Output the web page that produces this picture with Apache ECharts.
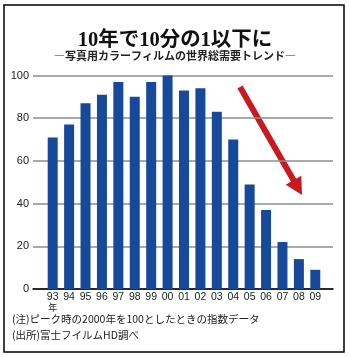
<!DOCTYPE html>
<html><head><meta charset="utf-8">
<script src="https://cdn.jsdelivr.net/npm/echarts@6/dist/echarts.min.js"></script>
<style>html,body{margin:0;padding:0;background:#fff}#c{width:350px;height:357px}</style>
</head><body><div id="c"></div>
<script>
const categories = ['93','94','95','96','97','98','99','00','01','02','03','04','05','06','07','08','09'];
const demandIndex = [71,77,87,91,97,90,97,100,93,94,83,70,49,37,22,14,9];
const yTicks = [0,20,40,60,80,100];
const titleText = '10年で10分の1以下に';
const subtitleText = '―写真用カラーフィルムの世界総需要トレンド―';
const noteText = '(注)ピーク時の2000年を100としたときの指数データ';
const sourceText = '(出所)富士フイルムHD調べ';
const yearUnit = '年';

const chart = echarts.init(document.getElementById('c'), null, {renderer:'canvas'});
const gTop = 75.5, gBottom = 68;
chart.setOption({
  animation:false,
  backgroundColor:'#fff',
  title:[
    {text:titleText,left:'center',top:25,textStyle:{fontFamily:'"Liberation Serif","DejaVu Serif","Noto Sans CJK JP",serif',fontWeight:'bold',fontSize:20.5,color:'#111'}},
    {text:subtitleText,left:'center',top:45,textStyle:{fontFamily:'"Noto Sans CJK JP",sans-serif',fontWeight:'bold',fontSize:11,color:'#222'}}
  ],
  grid:[
    {left:33,right:17,top:gTop,bottom:gBottom},
    {left:44.5,right:26.5,top:gTop,bottom:gBottom}
  ],
  xAxis:[
    {gridIndex:0,type:'value',min:0,max:1,axisLine:{show:true,onZero:false,lineStyle:{color:'#000',width:1.5}},axisTick:{show:false},axisLabel:{show:false},splitLine:{show:false}},
    {gridIndex:1,type:'category',data:categories,boundaryGap:true,axisLine:{show:false},axisTick:{show:false},
     axisLabel:{interval:0,margin:3,color:'#222',verticalAlign:'top',
       formatter:(v,i)=> '{n|'+v+'}\n{u|'+(i===0 ? yearUnit : ' ')+'}',
       rich:{
         n:{fontSize:10.5,lineHeight:10,color:'#222',fontFamily:'"Liberation Sans",Arial,sans-serif'},
         u:{fontSize:9,lineHeight:11,color:'#222',fontFamily:'"Noto Sans CJK JP",sans-serif'}}}}
  ],
  yAxis:[
    {gridIndex:0,type:'value',min:yTicks[0],max:yTicks[yTicks.length-1],interval:20,
     axisLine:{show:false},axisTick:{show:false},
     axisLabel:{margin:4,fontSize:11,color:'#222',fontFamily:'"Liberation Sans",Arial,sans-serif'},
     splitLine:{show:true,lineStyle:{color:'#8c8c8c',width:1.5}}},
    {gridIndex:1,type:'value',min:0,max:100,show:false,splitLine:{show:false}}
  ],
  series:[{type:'bar',xAxisIndex:1,yAxisIndex:1,data:demandIndex,barWidth:10,itemStyle:{color:'#17499b'}}],
  graphic:[
    {type:'rect',shape:{x:4,y:5,width:340,height:347},style:{fill:'none',stroke:'#000',lineWidth:1.5},silent:true},
    {type:'text',left:12,top:313.5,style:{text:noteText,fontSize:10.5,fill:'#222',fontFamily:'"Noto Sans CJK JP",sans-serif'}},
    {type:'text',left:12,top:329.5,style:{text:sourceText,fontSize:10.5,fill:'#222',fontFamily:'"Noto Sans CJK JP",sans-serif'}},
    {type:'line',shape:{x1:240,y1:87,x2:294,y2:181},style:{stroke:'#c8191e',lineWidth:6}},
    {type:'polygon',shape:{points:[[302,195],[285.7,184.8],[301.3,175.8]]},style:{fill:'#c8191e'}}
  ]
});
</script></body></html>
